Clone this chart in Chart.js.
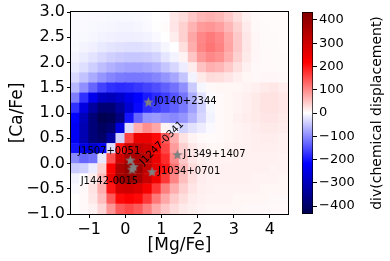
<!DOCTYPE html>
<html>
<head>
<meta charset="utf-8">
<script src="https://cdn.jsdelivr.net/npm/chart.js@4/dist/chart.umd.min.js"></script>
<style>
  html, body { margin: 0; padding: 0; background: #fff; }
  #wrap { position: relative; width: 390px; height: 261px; }
  #wrap canvas { position: absolute; left: 0; top: 0; }
</style>
</head>
<body>
<div id="wrap">
  <canvas id="map-chart" width="390" height="261"></canvas>
  <canvas id="bar-chart" width="390" height="261"></canvas>
</div>
<script>
// Grid centres
var magFe = [-1.375, -1.125, -0.875, -0.625, -0.375, -0.125, 0.125, 0.375, 0.625, 0.875, 1.125, 1.375,
  1.625, 1.875, 2.125, 2.375, 2.625, 2.875, 3.125, 3.375, 3.625, 3.875, 4.125, 4.375];
var caFe = [2.9, 2.7, 2.5, 2.3, 2.1, 1.9, 1.7, 1.5, 1.3, 1.1, 0.9, 0.7, 0.5, 0.3, 0.1, -0.1, -0.3, -0.5, -0.7, -0.9];

// div(chemical displacement), one row per [Ca/Fe] centre (top to bottom)
var divRows = [
  [-3, -4, -5, -5, -6, -6, -6, -5, -3, 0, 2, 20, 30, 48, 62, 66, 60, 46, 28, 12, 5, 3, 3, 3],
  [-4, -5, -6, -7, -8, -9, -9, -8, -5, -1, 3, 22, 40, 65, 85, 90, 82, 62, 38, 17, 6, 4, 3, 3],
  [-5, -6, -8, -10, -12, -14, -14, -13, -10, -5, 0, 15, 40, 75, 102, 112, 102, 76, 46, 20, 7, 4, 4, 3],
  [-6, -9, -13, -18, -22, -25, -27, -27, -24, -18, -8, 0, 28, 70, 105, 118, 106, 78, 46, 20, 7, 4, 4, 3],
  [-10, -16, -24, -32, -40, -45, -48, -48, -45, -38, -22, -10, 10, 50, 88, 102, 94, 70, 40, 18, 7, 5, 4, 4],
  [-17, -28, -42, -55, -66, -74, -78, -78, -74, -66, -50, -35, -15, 15, 52, 68, 62, 46, 26, 12, 6, 5, 5, 4],
  [-32, -52, -72, -90, -104, -112, -116, -116, -112, -104, -90, -75, -50, -10, 18, 30, 28, 22, 14, 8, 6, 7, 7, 6],
  [-60, -95, -130, -160, -175, -180, -178, -170, -160, -150, -135, -120, -95, -45, -8, 6, 8, 8, 8, 10, 14, 18, 20, 16],
  [-110, -175, -240, -290, -300, -280, -245, -215, -195, -180, -165, -145, -118, -70, -25, -3, 5, 8, 10, 14, 18, 24, 25, 20],
  [-175, -255, -335, -385, -385, -340, -270, -210, -180, -165, -150, -135, -115, -80, -40, -8, 5, 8, 10, 14, 18, 24, 25, 20],
  [-215, -300, -380, -425, -420, -370, -200, -130, -90, -85, -95, -100, -90, -65, -35, -10, 5, 8, 12, 15, 18, 22, 22, 18],
  [-230, -310, -380, -410, -390, -260, -30, 70, 95, 75, 10, -15, -38, -25, -15, -5, 5, 8, 10, 12, 15, 18, 18, 15],
  [-230, -310, -380, -400, -330, -40, 160, 250, 250, 210, 140, 70, 25, 10, 5, 3, 5, 8, 10, 12, 14, 15, 15, 12],
  [-200, -250, -280, -230, -30, 200, 300, 320, 300, 230, 160, 85, 40, 20, 12, 8, 8, 10, 12, 12, 14, 14, 14, 12],
  [-100, -130, -120, -20, 150, 300, 360, 360, 330, 250, 180, 100, 48, 22, 14, 10, 10, 10, 12, 12, 12, 12, 12, 10],
  [-45, -40, -15, 40, 220, 360, 400, 390, 320, 260, 200, 120, 60, 30, 18, 14, 12, 12, 12, 12, 12, 12, 10, 10],
  [-10, 0, 15, 60, 250, 370, 390, 370, 310, 240, 170, 105, 55, 28, 16, 12, 12, 12, 12, 12, 10, 10, 10, 8],
  [-5, 5, 25, 70, 200, 290, 300, 280, 230, 170, 110, 70, 40, 22, 14, 12, 10, 10, 10, 10, 10, 8, 8, 8],
  [0, 5, 20, 55, 140, 210, 225, 210, 170, 115, 75, 45, 28, 16, 12, 10, 10, 10, 8, 8, 8, 8, 6, 6],
  [0, 5, 12, 35, 90, 140, 155, 140, 110, 72, 48, 30, 18, 13, 10, 8, 8, 8, 8, 6, 6, 6, 5, 5]
];

// Stars
var starNames = ['J0140+2344', 'J1507+0051', 'J1247-0341', 'J1442-0015', 'J1034+0701', 'J1349+1407'];
var starMg = [0.64, 0.14, 0.23, 0.19, 0.74, 1.44];
var starCa = [1.22, 0.07, -0.06, -0.11, -0.16, 0.18];

// Ticks
var xTicks = [-1, 0, 1, 2, 3, 4];
var yTicks = [-1, -0.5, 0, 0.5, 1, 1.5, 2, 2.5, 3];
var cbTicks = [-400, -300, -200, -100, 0, 100, 200, 300, 400];
var cbMin = -434, cbMax = 434;

// Label placement next to each star (pixels)
var labelStyle = [
  {dx: 6, dy: 0, align: 'left', rot: 0},
  {dx: 10, dy: -9, align: 'right', rot: 0},
  {dx: 8, dy: -3, align: 'left', rot: -45},
  {dx: 6, dy: 12, align: 'right', rot: 0},
  {dx: 6, dy: 0, align: 'left', rot: 0},
  {dx: 6, dy: 0, align: 'left', rot: 0}
];

Chart.defaults.font.family = "'DejaVu Sans', sans-serif";
Chart.defaults.color = '#000';

// seismic colour map
var cmapStops = [[0, 0, 76], [0, 0, 255], [255, 255, 255], [255, 0, 0], [128, 0, 0]];
function rgb(c) {
  return 'rgb(' + Math.round(c[0]) + ',' + Math.round(c[1]) + ',' + Math.round(c[2]) + ')';
}
function seismic(v) {
  var t = (v - cbMin) / (cbMax - cbMin);
  t = Math.max(0, Math.min(1, t)) * 4;
  var i = Math.min(3, Math.floor(t));
  var f = t - i;
  var a = cmapStops[i], b = cmapStops[i + 1];
  return rgb([a[0] + (b[0] - a[0]) * f, a[1] + (b[1] - a[1]) * f, a[2] + (b[2] - a[2]) * f]);
}

function minus(s, v) {
  return v < 0 ? '\u2212' + s : s;
}

// Filled star marker
function makeStar(size, color) {
  var c = document.createElement('canvas');
  c.width = size;
  c.height = size;
  var g = c.getContext('2d');
  var r = size / 2, r2 = r * 0.42;
  g.beginPath();
  for (var k = 0; k < 10; k++) {
    var rr = k % 2 ? r2 : r;
    var a = -Math.PI / 2 + k * Math.PI / 5;
    g.lineTo(r + rr * Math.cos(a), r + 0.6 + rr * Math.sin(a));
  }
  g.closePath();
  g.fillStyle = color;
  g.fill();
  return c;
}
var starImg = makeStar(11, '#808080');

// Heatmap cells
var cells = [];
divRows.forEach(function(row, i) {
  row.forEach(function(v, j) {
    cells.push({x: magFe[j], y: caFe[i], v: v});
  });
});

function cellRadius(ctx) {
  var c = ctx.chart;
  var w = Math.abs(c.scales.x.getPixelForValue(magFe[1]) - c.scales.x.getPixelForValue(magFe[0]));
  var h = Math.abs(c.scales.y.getPixelForValue(caFe[0]) - c.scales.y.getPixelForValue(caFe[1]));
  return (Math.max(w, h) + 0.4) / (2 * Math.SQRT1_2);
}

// Star names and the box round the plot
var starLabels = {
  id: 'starLabels',
  afterDatasetsDraw: function(chart) {
    var ctx = chart.ctx;
    var xs = chart.scales.x, ys = chart.scales.y;
    var a = chart.chartArea;
    ctx.save();
    ctx.strokeStyle = '#000';
    ctx.lineWidth = 1;
    ctx.strokeRect(Math.round(a.left) - 0.5, Math.round(a.top) - 0.5,
      Math.round(a.right - a.left) + 1, Math.round(a.bottom - a.top) + 1);
    ctx.font = "10px 'DejaVu Sans'";
    ctx.fillStyle = '#000';
    ctx.textBaseline = 'middle';
    starNames.forEach(function(name, i) {
      var s = labelStyle[i];
      var px = xs.getPixelForValue(starMg[i]) + s.dx;
      var py = ys.getPixelForValue(starCa[i]) + s.dy;
      ctx.save();
      ctx.translate(px, py);
      ctx.rotate(s.rot * Math.PI / 180);
      ctx.textAlign = s.align;
      ctx.fillText(name, 0, 0);
      ctx.restore();
    });
    ctx.restore();
  }
};

var mapChart = new Chart(document.getElementById('map-chart'), {
  type: 'scatter',
  data: {
    datasets: [
      {
        label: 'stars',
        data: starMg.map(function(m, i) { return {x: m, y: starCa[i]}; }),
        pointStyle: starImg,
        pointRadius: 5,
        order: 1
      },
      {
        label: 'div',
        data: cells,
        pointStyle: 'rect',
        pointRadius: cellRadius,
        pointBorderWidth: 0,
        pointBackgroundColor: function(ctx) {
          return ctx.raw ? seismic(ctx.raw.v) : '#fff';
        },
        clip: 0,
        order: 2
      }
    ]
  },
  options: {
    responsive: false,
    animation: false,
    events: [],
    layout: { padding: { left: 0, top: 12, right: 102, bottom: 0 } },
    plugins: { legend: { display: false }, tooltip: { enabled: false } },
    scales: {
      x: {
        type: 'linear', min: -1.5, max: 4.5,
        afterBuildTicks: function(s) { s.ticks = xTicks.map(function(v) { return {value: v}; }); },
        afterFit: function(s) { s.height = 47; },
        grid: { drawOnChartArea: false, drawTicks: true, tickLength: 4, tickColor: '#000' },
        border: { display: false },
        ticks: {
          font: { size: 16 }, padding: 2, maxRotation: 0, autoSkip: false,
          callback: function(v) { return minus(String(Math.abs(v)), v); }
        },
        title: { display: true, text: '[Mg/Fe]', font: { size: 17 }, padding: { top: 0, bottom: 5 } }
      },
      y: {
        type: 'linear', min: -1, max: 3,
        afterBuildTicks: function(s) { s.ticks = yTicks.map(function(v) { return {value: v}; }); },
        afterFit: function(s) { s.width = 71; },
        grid: { drawOnChartArea: false, drawTicks: true, tickLength: 4, tickColor: '#000' },
        border: { display: false },
        ticks: {
          font: { size: 16 }, padding: 2, autoSkip: false,
          callback: function(v) { return minus(Math.abs(v).toFixed(1), v); }
        },
        title: { display: true, text: '[Ca/Fe]', font: { size: 17 }, padding: { top: 7, bottom: 0 } }
      }
    }
  },
  plugins: [starLabels]
});

// Colour bar
var cbTitle = {
  id: 'cbTitle',
  afterDraw: function(chart) {
    var a = chart.chartArea;
    var ctx = chart.ctx;
    ctx.save();
    ctx.translate(chart.scales.y.right - 13, (a.top + a.bottom) / 2);
    ctx.rotate(-Math.PI / 2);
    ctx.font = "14px 'DejaVu Sans'";
    ctx.fillStyle = '#000';
    ctx.textAlign = 'center';
    ctx.textBaseline = 'middle';
    ctx.fillText('div(chemical displacement)', 0, 0);
    ctx.restore();
  }
};

var barChart = new Chart(document.getElementById('bar-chart'), {
  type: 'bar',
  data: {
    labels: ['div'],
    datasets: [{
      data: [[cbMin, cbMax]],
      backgroundColor: function(ctx) {
        var a = ctx.chart.chartArea;
        if (!a) return '#fff';
        var g = ctx.chart.ctx.createLinearGradient(0, a.bottom, 0, a.top);
        cmapStops.forEach(function(c, i) { g.addColorStop(i / 4, rgb(c)); });
        return g;
      },
      borderColor: '#000',
      borderWidth: 1,
      borderSkipped: false,
      barPercentage: 1,
      categoryPercentage: 1
    }]
  },
  options: {
    responsive: false,
    animation: false,
    events: [],
    layout: { padding: { left: 302, top: 12, right: 0, bottom: 47 } },
    plugins: { legend: { display: false }, tooltip: { enabled: false } },
    scales: {
      x: { display: false },
      y: {
        position: 'right', min: cbMin, max: cbMax,
        afterBuildTicks: function(s) { s.ticks = cbTicks.map(function(v) { return {value: v}; }); },
        afterFit: function(s) { s.width = 77; },
        grid: { drawOnChartArea: false, drawTicks: true, tickLength: 4, tickColor: '#000' },
        border: { display: false },
        ticks: {
          font: { size: 13 }, padding: 2, autoSkip: false,
          callback: function(v) { return minus(String(Math.abs(v)), v); }
        }
      }
    }
  },
  plugins: [cbTitle]
});
</script>
</body>
</html>
